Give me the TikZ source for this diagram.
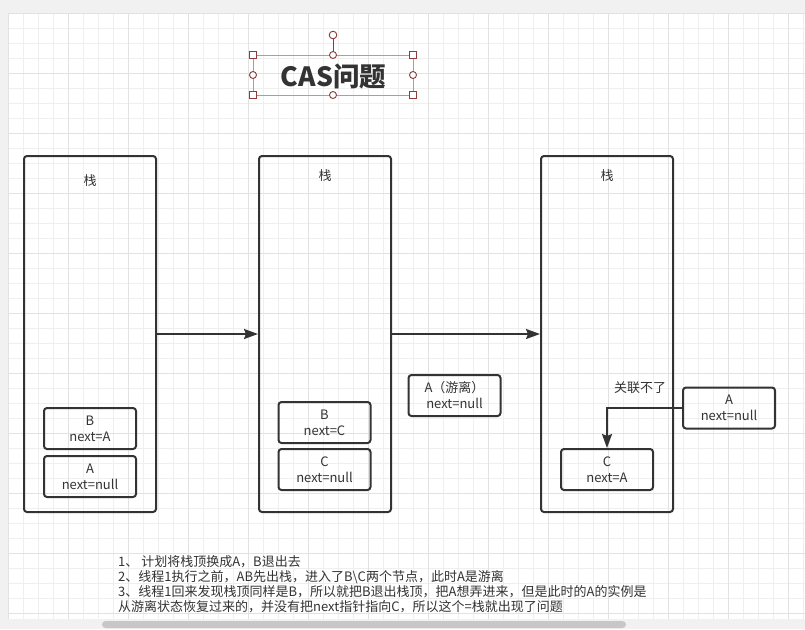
\documentclass[tikz,border=0pt]{standalone}
\usepackage{fontspec}
\setmainfont{Noto Sans CJK SC}
\usetikzlibrary{arrows.meta, positioning}

\definecolor{ink}{HTML}{333333}
\definecolor{gridminor}{HTML}{EFEFEF}
\definecolor{gridmajor}{HTML}{E2E2E2}
\definecolor{canvas}{HTML}{F1F1F1}
\definecolor{selred}{HTML}{8E3B3B}
\definecolor{selline}{HTML}{C49494}

\tikzset{
  stack/.style={draw=ink, line width=2pt, rounded corners=3pt,
    minimum width=132pt, minimum height=356pt, inner sep=0pt},
  elem/.style={draw=ink, line width=2pt, rounded corners=3pt,
    minimum width=92pt, minimum height=41pt, inner sep=0pt, align=center,
    text=ink, font=\fontsize{13}{16}\selectfont},
  caption/.style={text=ink, inner sep=0pt, font=\fontsize{13}{15}\selectfont},
  arr/.style={draw=ink, line width=2pt,
    -{Stealth[length=14pt, width=10pt, inset=2pt]}},
  handle/.style={draw=selred, fill=white, line width=0.9pt}
}

\begin{document}
\begin{tikzpicture}[x=1pt, y=-1pt]
  \useasboundingbox (0,0) rectangle (805,629);
  \fill[canvas] (0,0) rectangle (805,629);
  \fill[white] (8,13) rectangle (805,619);

  % grid
  \foreach \x in {8,23,...,805} {
    \draw[gridminor, line width=1pt] (\x,13) -- (\x,619);
  }
  \foreach \y in {13,28,...,619} {
    \draw[gridminor, line width=1pt] (8,\y) -- (805,\y);
  }
  \foreach \x in {8,68,...,805} {
    \draw[gridmajor, line width=1pt] (\x,13) -- (\x,619);
  }
  \foreach \y in {13,73,...,619} {
    \draw[gridmajor, line width=1pt] (8,\y) -- (805,\y);
  }

  % title with its selection handles
  \draw[selline, line width=0.8pt] (253,55) rectangle (413,95);
  \draw[selred, line width=0.9pt] (333,38.7) -- (333,55);
  \node[text=ink, inner sep=0pt, font=\fontsize{26.5}{30}\selectfont\bfseries] (title) at (333.5,76) {CAS问题};
  \foreach \x/\y in {253/55, 413/55, 253/95, 413/95} {
    \draw[handle] (\x-3.5,\y-3.5) rectangle (\x+3.5,\y+3.5);
  }
  \foreach \x/\y in {333/55, 333/95, 253/75, 413/75} {
    \draw[handle] (\x,\y) circle (3.5);
  }
  \draw[handle] (333,35) circle (3.8);

  % the three stacks
  \foreach \n/\x/\ly in {1/90/181, 2/325/176, 3/607/176} {
    \node[stack] (stack\n) at (\x,334) {};
    \node[caption] (name\n) at (\x,\ly) {栈};
  }

  \node[elem] (b1) at (90,428.5) {B\\next=A};
  \node[elem] (a1) at (90,476.5) {A\\next=null};

  \node[elem] (b2) at (324.5,422.5) {B\\next=C};
  \node[elem] (c2) at (324.5,469.5) {C\\next=null};

  \node[elem] (a0) at (454.5,395.5) {A（游离）\\next=null};

  \node[elem] (c3) at (607,469.5) {C\\next=A};
  \node[elem] (a3) at (729,408) {A\\next=null};

  \draw[arr] (stack1) -- (stack2);
  \draw[arr] (stack2) -- (stack3);
  \draw[arr] (a3.west) -| (c3.north);
  \node[caption] (lost) at (640,388) {关联不了};

  % notes
  \node[caption, anchor=north west, align=left] (notes) at (118,555.5) {1、 计划将栈顶换成A，B退出去\\
    2、线程1执行之前，AB先出栈，进入了B\textbackslash C两个节点，此时A是游离\\
    3、线程1回来发现栈顶同样是B，所以就把B退出栈顶，把A想弄进来，但是此时的A的实例是\\
    从游离状态恢复过来的，并没有把next指针指向C，所以这个=栈就出现了问题};

  \fill[black!22, rounded corners=3.5pt] (102,621) rectangle (626,628);
\end{tikzpicture}
\end{document}
